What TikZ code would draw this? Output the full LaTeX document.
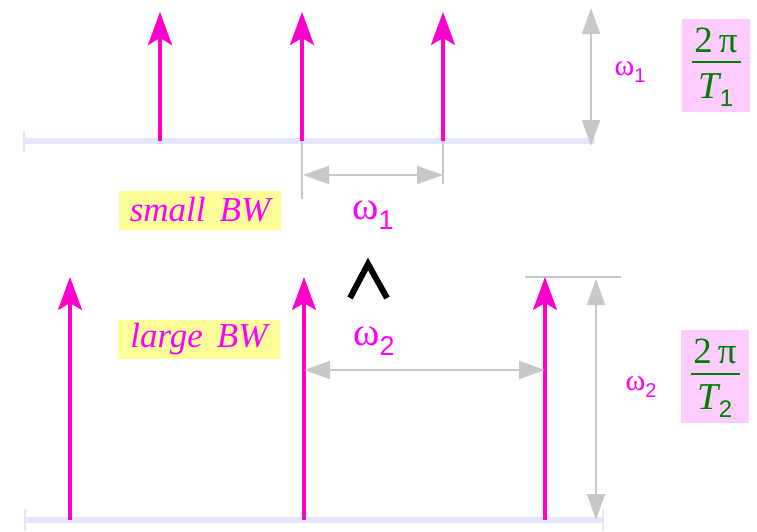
\documentclass[tikz,border=0pt]{standalone}
\usepackage{fontspec}
\setmainfont{Liberation Serif}
\newfontfamily\digitfont{Liberation Sans}
\usetikzlibrary{arrows.meta}
\definecolor{pulse}{HTML}{FF00CC}
\definecolor{lbl}{HTML}{FF00FF}
\definecolor{axisc}{HTML}{E6E6FA}
\definecolor{dimc}{HTML}{C8C8C8}
\definecolor{bwbox}{HTML}{FFFF99}
\definecolor{fracbox}{HTML}{FFCCFF}
\definecolor{fracc}{HTML}{008000}
% omega with a sans subscript digit
\newcommand{\bigomega}[1]{{\fontsize{40}{44}\selectfont ω}\raisebox{-10pt}{\digitfont\fontsize{27}{30}\selectfont #1}}
\newcommand{\smallomega}[1]{{\fontsize{30}{34}\selectfont ω}\raisebox{-7pt}{\digitfont\fontsize{20}{24}\selectfont #1}}
\tikzset{
  axisline/.style={axisc, line width=6pt},
  axistick/.style={axisc, line width=2.5pt},
  impulse/.style={pulse, line width=3.2pt, -{Stealth[length=33pt, width=24pt, inset=7pt]}},
  dimline/.style={dimc, line width=2pt},
  dimarrow/.style={dimc, line width=2pt, {Triangle[length=26pt, width=18pt]}-{Triangle[length=26pt, width=18pt]}},
  bwlabel/.style={fill=bwbox, text=lbl, font=\fontsize{35}{38}\selectfont\itshape, inner xsep=4pt, inner ysep=1pt, minimum height=39pt, minimum width=162pt},
  omega/.style={text=lbl, inner sep=0pt},
  fracbox/.style={fill=fracbox, minimum width=68pt, minimum height=93pt, inner sep=0pt},
  fractext/.style={text=fracc, inner sep=0pt},
  fracbar/.style={fracc, line width=2pt},
}
\begin{document}
\begin{tikzpicture}[x=1pt, y=-1pt]
\useasboundingbox (0,0) rectangle (757,531);

% ---- upper spectrum (small bandwidth) ----
\coordinate (a1l) at (24,141);
\coordinate (a1r) at (595,141);
\draw[axisline] (a1l) -- (a1r);
\draw[axistick] (24,131) -- (24,153);

\foreach \n/\x in {p1/160, p2/302, p3/443} {
  \coordinate (\n b) at (\x,141);
  \coordinate (\n t) at (\x,12);
}
\draw[dimline] (302,141) -- (302,199);
\draw[dimline] (443,141) -- (443,184);
\foreach \n in {p1,p2,p3} \draw[impulse] (\n b) -- (\n t);

\coordinate (s1l) at (303,175);
\coordinate (s1r) at (443,175);
\draw[dimarrow] (s1l) -- (s1r);
\node[omega] (w1) at (373,215) {\bigomega{1}};

\node[bwlabel] (small) at (200,210) {small\hspace{0.4em}BW};

\coordinate (h1t) at (591,8);
\coordinate (h1b) at (591,146);
\draw[dimarrow] (h1t) -- (h1b);
\node[omega] (wr1) at (630,72) {\smallomega{1}};

\node[fracbox] (f1) at (716,65) {};
\node[fractext, font=\fontsize{37}{40}\selectfont] (f1n) at (716,40) {2\,π};
\node[fractext] (f1d) at (716,90) {{\fontsize{38}{40}\selectfont\itshape T}\raisebox{-8pt}{\digitfont\fontsize{24}{26}\selectfont 1}};
\coordinate (f1a) at (692,62);
\coordinate (f1b) at (741,62);
\draw[fracbar] (f1a) -- (f1b);

% ---- comparison mark ----
\coordinate (c1) at (350,298);
\coordinate (c2) at (368,264);
\coordinate (c3) at (387,298);
\draw[black, line width=6pt, line join=miter] (c1) -- (c2) -- (c3);

% ---- lower spectrum (large bandwidth) ----
\coordinate (a2l) at (24,520);
\coordinate (a2r) at (603,520);
\draw[axisline] (a2l) -- (a2r);
\draw[axistick] (25,509) -- (25,531);
\draw[axistick] (603,509) -- (603,531);

\draw[dimline] (525,277) -- (621,277);

\foreach \n/\x in {q1/70, q2/304, q3/545} {
  \coordinate (\n b) at (\x,520);
  \coordinate (\n t) at (\x,277);
}
\foreach \n in {q1,q2,q3} \draw[impulse] (\n b) -- (\n t);

\coordinate (s2l) at (304,370);
\coordinate (s2r) at (545,370);
\draw[dimarrow] (s2l) -- (s2r);
\node[omega] (w2) at (374,341) {\bigomega{2}};

\node[bwlabel] (large) at (199,339) {large\hspace{0.4em}BW};

\coordinate (h2t) at (596,279);
\coordinate (h2b) at (596,520);
\draw[dimarrow] (h2t) -- (h2b);
\node[omega] (wr2) at (641,387) {\smallomega{2}};

\node[fracbox] (f2) at (715,376) {};
\node[fractext, font=\fontsize{37}{40}\selectfont] (f2n) at (715,351) {2\,π};
\node[fractext] (f2d) at (715,401) {{\fontsize{38}{40}\selectfont\itshape T}\raisebox{-8pt}{\digitfont\fontsize{24}{26}\selectfont 2}};
\coordinate (f2a) at (691,374);
\coordinate (f2b) at (740,374);
\draw[fracbar] (f2a) -- (f2b);
\end{tikzpicture}
\end{document}
